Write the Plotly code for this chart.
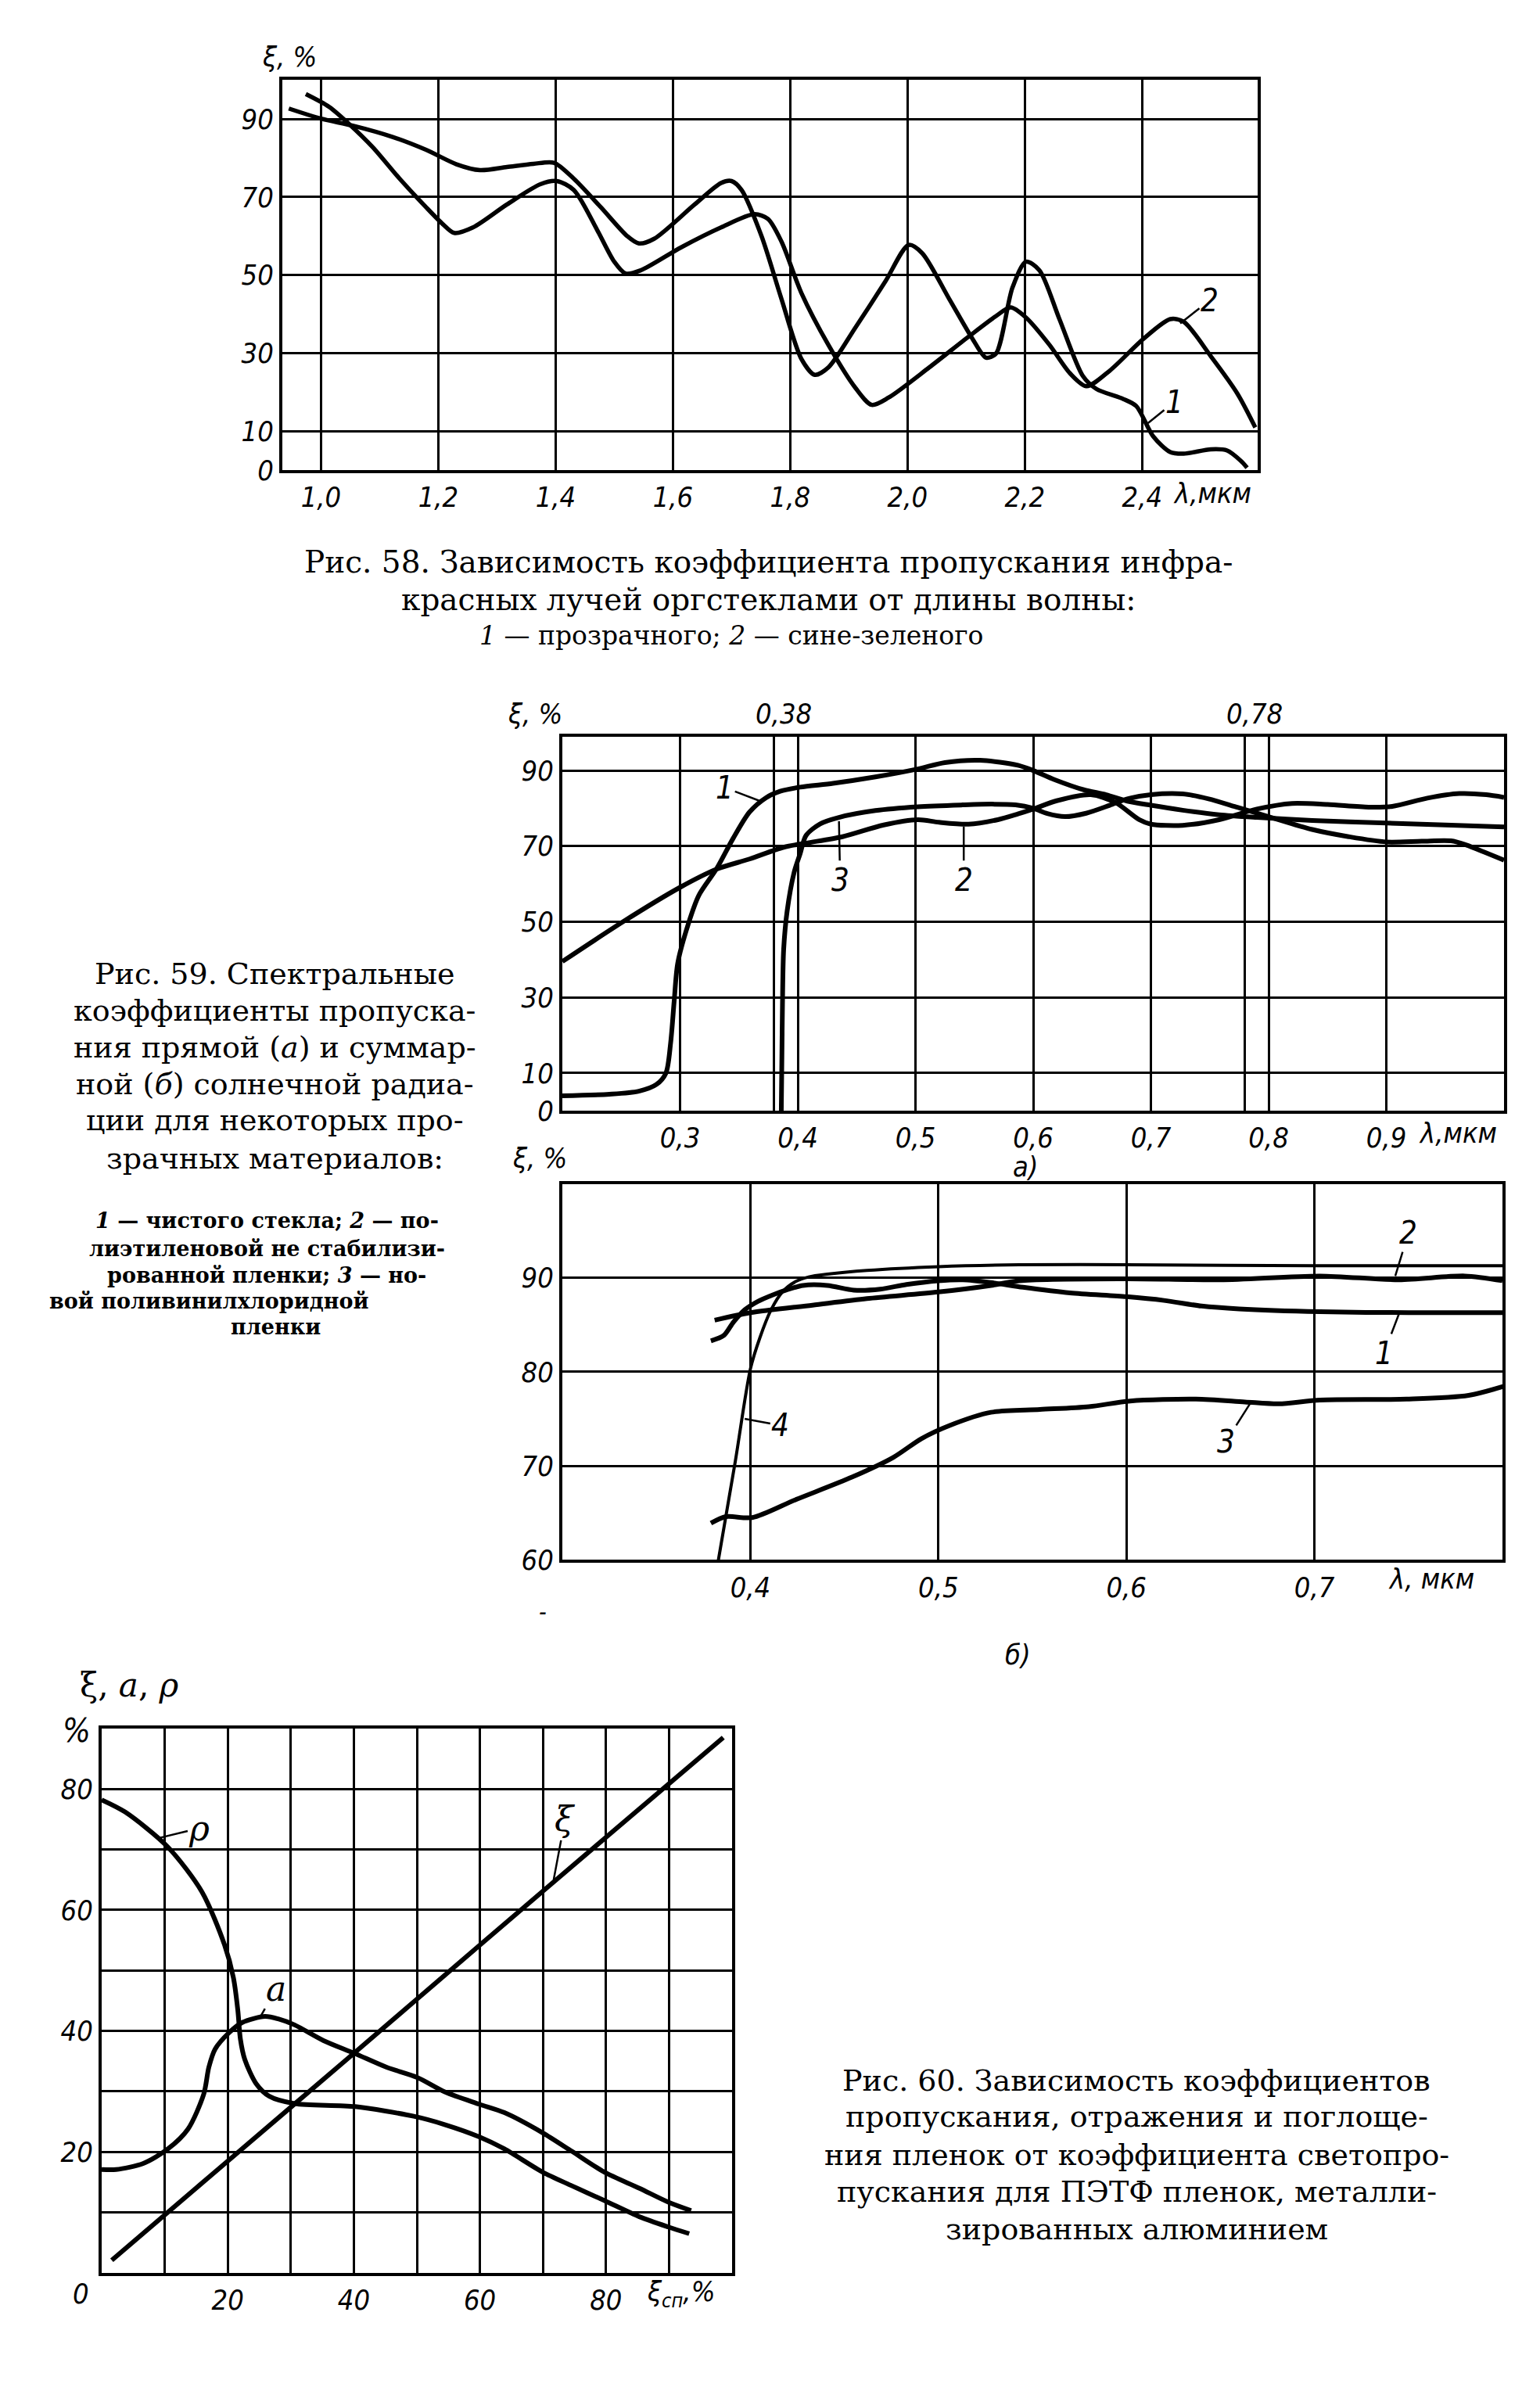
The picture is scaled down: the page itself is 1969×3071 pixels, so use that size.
import plotly.graph_objects as go

W, H = 1969, 3071

def px(x):
    return x / W

def py(y):
    return 1 - y / H

# ---------------- Fig. 58 data ----------------
f58_c1_x = [0.945, 1.0, 1.054, 1.122, 1.179, 1.231, 1.271, 1.317, 1.362, 1.397, 1.431, 1.477, 1.522, 1.542,
            1.568, 1.637, 1.682, 1.70, 1.717, 1.751, 1.785, 1.819, 1.842, 1.865, 1.911, 1.962, 2.002, 2.025,
            2.071, 2.111, 2.134, 2.151, 2.179, 2.202, 2.225, 2.259, 2.299, 2.322, 2.368, 2.39, 2.419, 2.448,
            2.471, 2.517, 2.545, 2.568, 2.579]
f58_c1_y = [92.7, 90.1, 88.3, 85.4, 82.1, 78.4, 76.9, 77.7, 78.5, 78.8, 74.7, 67.4, 60.0, 58.1,
            59.3, 68.1, 73.6, 74.1, 71.8, 60.0, 43.9, 28.5, 24.4, 26.3, 36.5, 48.3, 57.7, 55.6,
            43.9, 33.6, 28.8, 29.9, 46.8, 53.4, 51.2, 38.7, 24.1, 20.8, 18.2, 16.4, 8.6, 4.6,
            4.2, 5.3, 5.0, 2.4, 0.6]
f58_c2_x = [0.974, 1.014, 1.048, 1.088, 1.134, 1.179, 1.208, 1.227, 1.259, 1.317, 1.374, 1.402, 1.431, 1.471,
            1.5, 1.519, 1.545, 1.614, 1.682, 1.739, 1.762, 1.785, 1.819, 1.865, 1.911, 1.939, 1.968, 2.037,
            2.105, 2.151, 2.176, 2.202, 2.242, 2.277, 2.305, 2.345, 2.402, 2.448, 2.471, 2.517, 2.562, 2.593]
f58_c2_y = [96.4, 93.1, 88.7, 82.8, 74.7, 67.4, 63.0, 60.8, 62.2, 68.1, 73.3, 74.1, 71.8, 61.5,
            53.4, 50.4, 51.2, 57.1, 62.2, 65.6, 64.4, 58.6, 45.4, 32.1, 21.1, 16.7, 18.6, 26.3,
            34.3, 39.5, 41.7, 39.1, 32.1, 24.8, 21.5, 25.5, 33.6, 38.7, 38.0, 29.2, 19.7, 10.9]
f58_xticks = [1.0, 1.2, 1.4, 1.6, 1.8, 2.0, 2.2, 2.4]
f58_xlabels = ["1,0", "1,2", "1,4", "1,6", "1,8", "2,0", "2,2", "2,4"]
f58_yticks = [0, 10, 30, 50, 70, 90]
f58_ylabels = ["0", "10", "30", "50", "70", "90"]

# ---------------- Fig. 59a data ----------------
f59a_c1_x = [0.2, 0.24, 0.265, 0.28, 0.288, 0.292, 0.295, 0.298, 0.307, 0.316, 0.331, 0.345, 0.359, 0.373,
             0.385, 0.402, 0.43, 0.466, 0.502, 0.525, 0.555, 0.587, 0.6, 0.618, 0.643, 0.662, 0.68, 0.7,
             0.727, 0.758, 0.79, 0.837, 0.9, 0.95, 1.0]
f59a_c1_y = [4.0, 4.4, 5.2, 7.0, 10.0, 18.0, 29.0, 39.0, 49.4, 57.0, 64.0, 72.0, 79.0, 82.8,
             84.5, 85.6, 86.6, 88.3, 90.4, 92.1, 92.7, 91.4, 90.0, 87.6, 84.9, 83.6, 81.9, 80.8,
             79.5, 78.3, 77.6, 76.8, 76.1, 75.6, 75.1]
f59a_c2_x = [0.2, 0.252, 0.3, 0.331, 0.359, 0.388, 0.407, 0.438, 0.473, 0.502, 0.52, 0.545, 0.57, 0.587,
             0.6, 0.62, 0.649, 0.67, 0.69, 0.7, 0.727, 0.758, 0.79, 0.82, 0.85, 0.885, 0.905, 0.935,
             0.962, 0.985, 1.0]
f59a_c2_y = [39.5, 50.1, 59.1, 63.9, 66.6, 69.7, 70.8, 72.5, 75.6, 77.0, 76.3, 75.8, 77.0, 78.5,
             79.8, 82.0, 83.6, 81.5, 77.0, 75.8, 75.5, 77.0, 79.8, 81.3, 81.0, 80.3, 80.5, 82.7,
             83.9, 83.6, 82.9]
f59a_c3_x = [0.386, 0.3865, 0.387, 0.388, 0.391, 0.397, 0.402, 0.407, 0.419, 0.435, 0.466, 0.502, 0.54,
             0.565, 0.585, 0.6, 0.612, 0.627, 0.645, 0.665, 0.68, 0.7, 0.727, 0.749, 0.774, 0.8, 0.837,
             0.868, 0.9, 0.93, 0.955, 0.968, 0.985, 1.0]
f59a_c3_y = [0.0, 14.0, 28.0, 42.6, 52.9, 63.2, 68.0, 72.8, 75.9, 77.6, 79.4, 80.4, 80.9,
             81.1, 80.9, 80.0, 78.6, 77.8, 78.7, 80.8, 82.5, 83.6, 83.8, 82.5, 80.2, 77.8, 74.4,
             72.5, 71.1, 71.3, 71.4, 70.3, 68.2, 66.3]
f59a_xticks = [0.3, 0.4, 0.5, 0.6, 0.7, 0.8, 0.9]
f59a_xlabels = ["0,3", "0,4", "0,5", "0,6", "0,7", "0,8", "0,9"]
f59a_topvals = [0.38, 0.78]
f59a_toplabels = ["0,38", "0,78"]
f59a_yticks = [0, 10, 30, 50, 70, 90]
f59a_ylabels = ["0", "10", "30", "50", "70", "90"]

# ---------------- Fig. 59б data ----------------
f59b_c1_x = [0.379, 0.386, 0.391, 0.397, 0.404, 0.412, 0.419, 0.428, 0.441, 0.455, 0.469, 0.483, 0.5,
             0.513, 0.528, 0.545, 0.57, 0.6, 0.62, 0.64, 0.66, 0.703, 0.75, 0.805]
f59b_c1_y = [83.3, 83.9, 85.3, 86.6, 87.5, 88.2, 88.7, 89.2, 89.2, 88.7, 88.8, 89.3, 89.7,
             89.8, 89.5, 89.0, 88.4, 88.0, 87.6, 87.0, 86.7, 86.4, 86.3, 86.3]
f59b_c2_x = [0.381, 0.4, 0.433, 0.462, 0.5, 0.528, 0.543, 0.6, 0.65, 0.703, 0.745, 0.78, 0.8]
f59b_c2_y = [85.5, 86.3, 87.1, 87.8, 88.5, 89.2, 89.7, 89.9, 89.8, 90.2, 89.8, 90.2, 89.7]
f59b_c3_x = [0.379, 0.387, 0.401, 0.424, 0.454, 0.476, 0.491, 0.506, 0.528, 0.554, 0.58, 0.602, 0.637,
             0.663, 0.681, 0.703, 0.749, 0.782, 0.803]
f59b_c3_y = [63.9, 64.6, 64.5, 66.4, 68.8, 70.9, 72.9, 74.3, 75.7, 76.0, 76.3, 76.9, 77.1,
             76.8, 76.6, 77.0, 77.1, 77.5, 78.6]
f59b_c4_x = [0.383, 0.392, 0.4, 0.405, 0.411, 0.417, 0.424, 0.431, 0.441, 0.462, 0.5, 0.543, 0.6, 0.7, 0.8]
f59b_c4_y = [60.0, 70.5, 80.3, 83.6, 86.6, 88.5, 89.6, 90.1, 90.4, 90.8, 91.2, 91.4, 91.4, 91.3, 91.3]
f59b_xticks = [0.4, 0.5, 0.6, 0.7]
f59b_xlabels = ["0,4", "0,5", "0,6", "0,7"]
f59b_yticks = [60, 70, 80, 90]
f59b_ylabels = ["60", "70", "80", "90"]

# ---------------- Fig. 60 data ----------------
f60_xi_x = [1.6, 20, 40, 60, 80, 98.6]
f60_xi_y = [2.1, 18.5, 36.3, 54.2, 72.0, 88.5]
f60_rho_x = [0, 3.7, 10.5, 15.9, 19.5, 20.9, 21.6, 22.0, 22.7, 24.5, 26.6, 30.6, 40.2, 49.5, 54.5, 59.9,
             63.9, 69.9, 74.6, 79.7, 85.3, 89.9, 93.2]
f60_rho_y = [78.2, 76.2, 70.4, 63.0, 54.2, 48.8, 43.4, 38.7, 35.3, 31.3, 29.2, 28.0, 27.5, 25.9, 24.5, 22.5,
             20.5, 16.7, 14.4, 12.0, 9.3, 7.6, 6.5]
f60_a_x = [0, 2.3, 6.6, 10.5, 13.7, 16.2, 17.0, 18.0, 20.2, 22.3, 25.9, 28.0, 30.6, 35.2, 40.1, 45.2,
           50.1, 54.5, 59.9, 63.9, 69.9, 74.6, 79.7, 85.3, 89.9, 93.5]
f60_a_y = [17.1, 17.1, 18.1, 20.5, 23.8, 29.6, 34.0, 37.0, 39.7, 41.4, 42.4, 42.0, 41.0, 38.4, 36.3, 34.0,
           32.3, 29.9, 27.9, 26.5, 23.2, 20.1, 16.7, 14.0, 11.7, 10.3]
f60_xticks = [20, 40, 60, 80]
f60_xlabels = ["20", "40", "60", "80"]
f60_xgrid = [10, 30, 50, 70, 90]
f60_yticks = [20, 40, 60, 80]
f60_ylabels = ["20", "40", "60", "80"]
f60_ygrid = [10, 30, 50, 70]

# ---------------- captions ----------------
cap58 = ["Рис. 58. Зависимость коэффициента пропускания инфра-",
         "красных лучей оргстеклами от длины волны:"]
sub58 = "<i>1</i> — прозрачного; <i>2</i> — сине-зеленого"
cap59 = ["Рис. 59. Спектральные", "коэффициенты пропуска-", "ния прямой (<i>а</i>) и суммар-",
         "ной (<i>б</i>) солнечной радиа-", "ции для некоторых про-", "зрачных материалов:"]
sub59 = ["<i>1</i> — чистого стекла; <i>2</i> — по-", "лиэтиленовой не стабилизи-",
         "рованной пленки; <i>3</i> — но-", "вой поливинилхлоридной", "пленки"]
cap60 = ["Рис. 60. Зависимость коэффициентов", "пропускания, отражения и поглоще-",
         "ния пленок от коэффициента светопро-", "пускания для ПЭТФ пленок, металли-",
         "зированных алюминием"]

# ---------------- styling ----------------
NARROW = "Liberation Sans Narrow, DejaVu Sans Condensed, Roboto, Liberation Sans, sans-serif"
SERIF = "DejaVu Serif, Liberation Serif, serif"
TICK = dict(family=NARROW, size=36, color="black", style="italic")
CURVE_W = 5.5

fig = go.Figure()

def add_curve(xs, ys, xa, ya, width=CURVE_W):
    fig.add_trace(go.Scatter(x=xs, y=ys, xaxis=xa, yaxis=ya, mode="lines",
                             line=dict(color="black", width=width, shape="spline", smoothing=0.8),
                             showlegend=False, hoverinfo="skip"))

add_curve(f58_c1_x, f58_c1_y, "x", "y")
add_curve(f58_c2_x, f58_c2_y, "x", "y")
add_curve(f59a_c1_x, f59a_c1_y, "x2", "y2", 6)
add_curve(f59a_c2_x, f59a_c2_y, "x2", "y2", 6)
add_curve(f59a_c3_x, f59a_c3_y, "x2", "y2", 6)
add_curve(f59b_c1_x, f59b_c1_y, "x3", "y3", 6)
add_curve(f59b_c2_x, f59b_c2_y, "x3", "y3", 6)
add_curve(f59b_c3_x, f59b_c3_y, "x3", "y3", 6)
add_curve(f59b_c4_x, f59b_c4_y, "x3", "y3", 4)
add_curve(f60_xi_x, f60_xi_y, "x4", "y4", 6)
add_curve(f60_rho_x, f60_rho_y, "x4", "y4", 6)
add_curve(f60_a_x, f60_a_y, "x4", "y4", 6)

def axis(domain, rng, tickvals, ticktext, anchor, minor_vals=None):
    d = dict(domain=domain, range=rng, tickmode="array", tickvals=tickvals, ticktext=ticktext,
             anchor=anchor, showgrid=True, gridcolor="black", gridwidth=3, showline=True,
             linecolor="black", linewidth=4, mirror=True, zeroline=False, ticks="", tickfont=TICK,
             fixedrange=True)
    if minor_vals:
        d["minor"] = dict(tickmode="array", tickvals=minor_vals, showgrid=True, gridcolor="black",
                          gridwidth=3, ticks="")
    return d

fig.update_layout(
    width=W, height=H, margin=dict(l=0, r=0, t=0, b=0),
    paper_bgcolor="white", plot_bgcolor="white", showlegend=False,
    xaxis=axis([px(353), px(1600)], [0.934, 2.597], f58_xticks, f58_xlabels, "y"),
    yaxis=axis([py(597), py(95)], [0, 100], f58_yticks, f58_ylabels, "x"),
    xaxis2=axis([px(711), px(1915)], [0.2, 1.0], f59a_xticks, f59a_xlabels, "y2", f59a_topvals),
    yaxis2=axis([py(1422), py(940)], [0, 99], f59a_yticks, f59a_ylabels, "x2"),
    xaxis3=axis([px(711), px(1913)], [0.3, 0.8], f59b_xticks, f59b_xlabels, "y3"),
    yaxis3=axis([py(2000), py(1516)], [60, 100], f59b_yticks, f59b_ylabels, "x3"),
    xaxis4=axis([px(122), px(928)], [0, 100], f60_xticks, f60_xlabels, "y4", f60_xgrid),
    yaxis4=axis([py(2918), py(2217)], [0, 90], f60_yticks, f60_ylabels, "x4", f60_ygrid),
)

ann = []

def text(x, y, s, size=36, family=NARROW, italic=True, xanchor="center", weight="normal"):
    ann.append(dict(x=px(x), y=py(y), xref="paper", yref="paper", text=s, showarrow=False,
                    xanchor=xanchor, yanchor="middle",
                    font=dict(family=family, size=size, color="black",
                              style="italic" if italic else "normal", weight=weight)))

def cap(x, y, s, size, xanchor="center", weight="normal"):
    text(x, y, s, size=size, family=SERIF, italic=False, xanchor=xanchor, weight=weight)

def label(xa, ya, tx, ty, s, x0, y0, size=40, family=NARROW):
    ann.append(dict(x=x0, y=y0, xref=xa, yref=ya, ax=tx, ay=ty, axref=xa, ayref=ya, text=s,
                    showarrow=True, arrowhead=0, arrowwidth=2.5, arrowcolor="black", standoff=0,
                    font=dict(family=family, size=size, color="black", style="italic")))

# Fig 58 texts
text(362, 65, "ξ, %")
text(1542, 627, "λ,мкм")
label("x", "y", 2.455, 17.5, "1", 2.41, 12)
label("x", "y", 2.515, 43.5, "2", 2.465, 37.6)
cap(974, 715, cap58[0], 39)
cap(974, 764, cap58[1], 39)
cap(927, 810, sub58, 33)

# Fig 59a texts
text(676, 911, "ξ, %")
for v, s in zip(f59a_topvals, f59a_toplabels):
    ann.append(dict(x=v, y=py(911), xref="x2", yref="paper", text=s, showarrow=False,
                    xanchor="center", xshift=12, yanchor="middle",
                    font=dict(family=NARROW, size=36, color="black", style="italic")))
text(1856, 1450, "λ,мкм")
text(1303, 1494, "а)")
label("x2", "y2", 0.338, 85.5, "1", 0.369, 81.8)
label("x2", "y2", 0.436, 61.1, "3", 0.435, 76.6)
label("x2", "y2", 0.541, 61.1, "2", 0.541, 75.2)

# Fig 59 caption
for s, yy in zip(cap59, [1246, 1293, 1340, 1387, 1434, 1483]):
    cap(343, yy, s, 38)
for s, yy in zip(sub59[:3], [1563, 1599, 1634]):
    cap(333, yy, s, 27, weight="bold")
cap(53, 1667, sub59[3], 27, xanchor="left", weight="bold")
cap(344, 1700, sub59[4], 27, weight="bold")

# Fig 59b texts
text(682, 1483, "ξ, %")
text(1822, 2024, "λ, мкм")
text(1293, 2122, "б)")
text(686, 2067, "-", size=30)
label("x3", "y3", 0.75, 94.8, "2", 0.743, 90.2)
label("x3", "y3", 0.737, 82.0, "1", 0.745, 86.2)
label("x3", "y3", 0.653, 72.6, "3", 0.666, 76.7)
label("x3", "y3", 0.416, 74.3, "4", 0.397, 75.0)

# Fig 60 texts
text(157, 2161, "ξ, <i>a</i>, <i>ρ</i>", size=42, family=SERIF, italic=False)
text(90, 2220, "%", size=42)
text(95, 2945, "0")
text(862, 2945, "ξ<sub>сп</sub>,%")
label("x4", "y4", 15.5, 73.5, "ρ", 9.1, 71.9, size=44, family=SERIF)
label("x4", "y4", 27.7, 47.0, "a", 25.2, 42.4, size=44, family=SERIF)
label("x4", "y4", 73.5, 75.0, "ξ", 71.7, 65.0, size=44, family=SERIF)

for s, yy in zip(cap60, [2670, 2717, 2766, 2813, 2862]):
    cap(1445, yy, s, 38)

fig.update_layout(annotations=ann)
fig.write_html("out.html")
